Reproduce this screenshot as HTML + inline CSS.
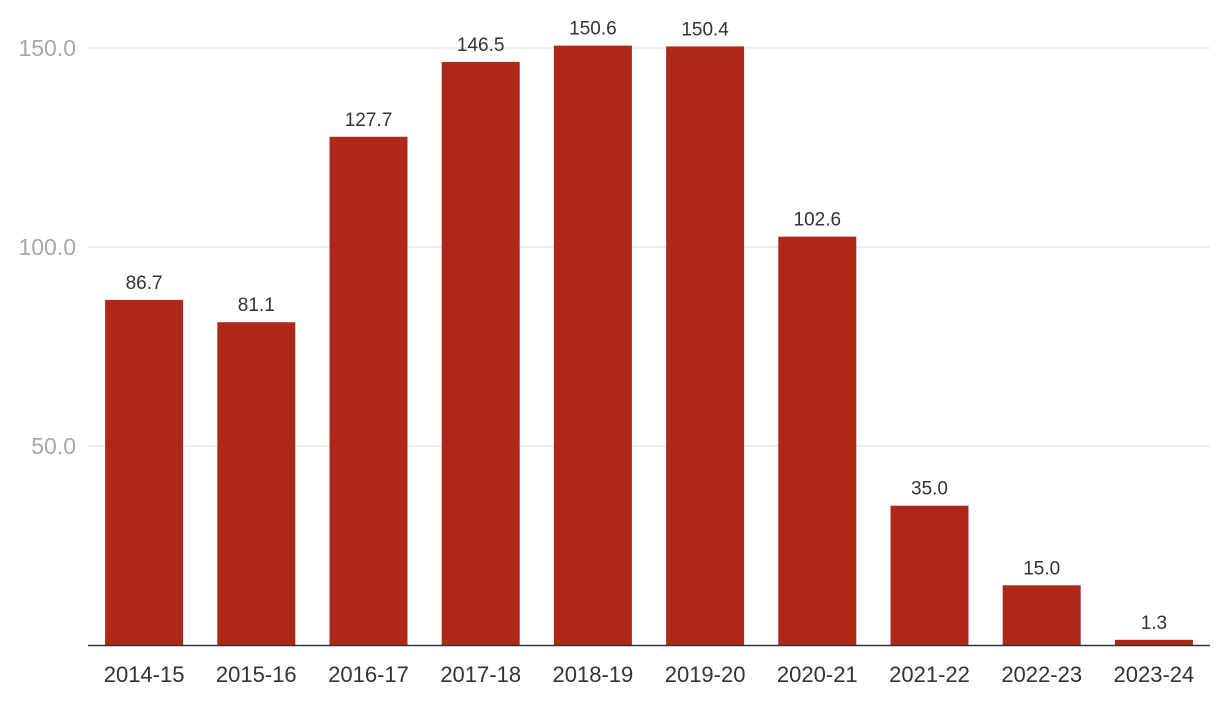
<!DOCTYPE html>
<html><head><meta charset="utf-8"><style>
html,body{margin:0;padding:0;background:#fff;}
svg{display:block;font-family:"Liberation Sans","DejaVu Sans",sans-serif;}
</style></head><body>
<svg id="chart" width="1220" height="706" xmlns="http://www.w3.org/2000/svg"></svg>
<script>
const categories = ["2014-15","2015-16","2016-17","2017-18","2018-19","2019-20","2020-21","2021-22","2022-23","2023-24"];
const values = [86.7,81.1,127.7,146.5,150.6,150.4,102.6,35.0,15.0,1.3];
const yTicks = [50,100,150];
const yTickLabels = ["50.0","100.0","150.0"];

const svg = document.getElementById('chart');
const NS = "http://www.w3.org/2000/svg";
const x0 = 88, x1 = 1210, yBase = 645, pxPerUnit = 3.98;
const band = (x1 - x0) / categories.length;
const barW = 78;
function yScale(v){ return yBase - v * pxPerUnit; }
function xCenter(i){ return x0 + band * (i + 0.5); }
function mk(tag, attrs){ const e = document.createElementNS(NS, tag); for (const k in attrs) e.setAttribute(k, attrs[k]); svg.appendChild(e); return e; }

yTicks.forEach((t, i) => {
  const g = mk('line', {x1: x0, x2: x1, y1: yScale(t), y2: yScale(t), stroke: '#dedede', 'stroke-width': 1});
  
  
  const lb = mk('text', {x: 76, y: yScale(t) + 8, 'text-anchor': 'end', 'font-size': 23, fill: '#a8a8a8'});
  lb.textContent = yTickLabels[i];
  
  
});

categories.forEach((c, i) => {
  const v = values[i];
  const cx = xCenter(i);
  const r = mk('rect', {x: cx - barW / 2, y: yScale(v), width: barW, height: yBase - yScale(v), fill: '#ad2818'});
  
  
  const vl = mk('text', {x: cx, y: yScale(v) - 11, 'text-anchor': 'middle', 'font-size': 19, fill: '#333'});
  vl.textContent = v.toFixed(1);
  
  
  const xl = mk('text', {x: cx, y: 682, 'text-anchor': 'middle', 'font-size': 22, fill: '#333'});
  xl.textContent = c;
  
  
});

const ax = mk('line', {x1: x0, x2: x1, y1: yBase + 0.5, y2: yBase + 0.5, stroke: '#333', 'stroke-width': 1.5});


</script>
</body></html>
